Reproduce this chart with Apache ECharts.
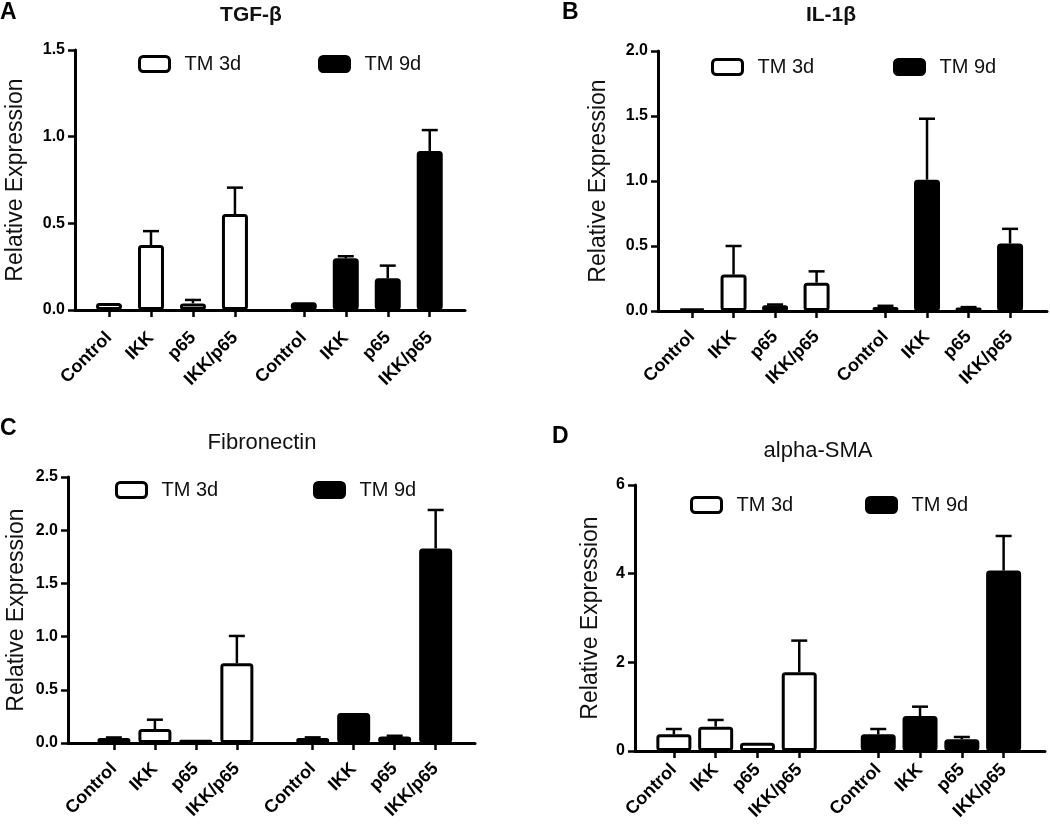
<!DOCTYPE html>
<html>
<head>
<meta charset="utf-8">
<script src="https://cdn.jsdelivr.net/npm/echarts@6/dist/echarts.min.js"></script>
<style>
  html, body { margin: 0; padding: 0; background: #fff; }
  #chart { width: 1050px; height: 831px; }
</style>
</head>
<body>
<div id="chart"></div>
<script>
// categories on each x axis (same for both time points)
const categories = ['Control', 'IKK', 'p65', 'IKK/p65'];
const seriesNames = ['TM 3d', 'TM 9d'];

// TGF-beta
const tgfb3d = [0.04, 0.375, 0.038, 0.554];
const tgfb3dErr = [0, 0.08, 0.02, 0.152];
const tgfb9d = [0.044, 0.298, 0.183, 0.917];
const tgfb9dErr = [0, 0.012, 0.073, 0.121];

// IL-1beta
const il1b3d = [0.018, 0.28, 0.044, 0.218];
const il1b3dErr = [0, 0.22, 0.006, 0.087];
const il1b9d = [0.03, 1.01, 0.026, 0.519];
const il1b9dErr = [0.01, 0.469, 0.004, 0.113];

// Fibronectin
const fn3d = [0.047, 0.131, 0.03, 0.75];
const fn3dErr = [0.005, 0.088, 0, 0.256];
const fn9d = [0.047, 0.281, 0.062, 1.828];
const fn9dErr = [0.006, 0, 0.006, 0.362];

// alpha-SMA
const sma3d = [0.376, 0.549, 0.188, 1.775];
const sma3dErr = [0.12, 0.151, 0, 0.715];
const sma9d = [0.376, 0.79, 0.263, 4.07];
const sma9dErr = [0.12, 0.21, 0.053, 0.78];

// y axis tick setup per panel
const yMax = [1.5, 2.0, 2.5, 6];
const yStep = [0.5, 0.5, 0.5, 2];

const FONT = 'Liberation Sans, Arial, sans-serif';

// panel layout (pixels / slot units)
const panels = [
  { letter: 'A', title: 'TGF-β', bold: true, data: [tgfb3d, tgfb9d], err: [tgfb3dErr, tgfb9dErr],
    grid: { left: 75, top: 50, width: 390, height: 260 }, pad: 0.81, gap: 1.64, span: 9.29, barW: 26,
    titleX: 251, titleY: 5, letterX: 0, letterY: 1, nameGap: 48, labelMargin: 25,
    legend: [[138, 57], [318, 57]] },
  { letter: 'B', title: 'IL-1β', bold: true, data: [il1b3d, il1b9d], err: [il1b3dErr, il1b9dErr],
    grid: { left: 658, top: 51, width: 389, height: 260 }, pad: 0.82, gap: 1.66, span: 9.37, barW: 26,
    titleX: 831, titleY: 5, letterX: 562, letterY: 1, nameGap: 48, labelMargin: 23,
    legend: [[711, 60], [893, 60]] },
  { letter: 'C', title: 'Fibronectin', bold: false, data: [fn3d, fn9d], err: [fn3dErr, fn9dErr],
    grid: { left: 68, top: 477, width: 407, height: 266 }, pad: 1.12, gap: 1.85, span: 9.93, barW: 33,
    titleX: 262, titleY: 432, letterX: 0, letterY: 417, nameGap: 40, labelMargin: 23,
    legend: [[115, 483], [313, 483]] },
  { letter: 'D', title: 'alpha-SMA', bold: false, data: [sma3d, sma9d], err: [sma3dErr, sma9dErr],
    grid: { left: 635, top: 485, width: 410, height: 266 }, pad: 0.93, gap: 1.89, span: 9.81, barW: 35,
    titleX: 818, titleY: 440, letterX: 552, letterY: 425, nameGap: 33, labelMargin: 16,
    legend: [[690, 498], [865, 498]] },
];

const barStyles = [
  { color: '#fff', borderColor: '#000', borderWidth: 3, borderRadius: 2 },
  { color: '#000', borderColor: '#000', borderWidth: 3, borderRadius: 2 },
];

const option = {
  animation: false,
  backgroundColor: '#fff',
  title: [],
  legend: [],
  grid: [],
  xAxis: [],
  yAxis: [],
  series: [],
};

panels.forEach((p, pi) => {
  // slot position of each bar: 4 for TM 3d, then a gap, 4 for TM 9d
  const pos = [0, 1].map(g => categories.map((c, i) => p.pad + i + g * (3 + p.gap)));
  const allPos = pos[0].concat(pos[1]);
  const labelOf = v => {
    const k = allPos.findIndex(x => Math.abs(x - v) < 1e-6);
    return k < 0 ? '' : categories[k % 4];
  };

  option.title.push(
    { text: p.title, left: p.titleX, top: p.titleY, textAlign: 'center', padding: 0,
      textStyle: { fontFamily: FONT, fontSize: p.bold ? 21 : 22, fontWeight: p.bold ? 'bold' : 'normal', color: '#111' } },
    { text: p.letter, left: p.letterX, top: p.letterY, padding: 0,
      textStyle: { fontFamily: FONT, fontSize: 23, fontWeight: 'bold', color: '#000' } }
  );

  seriesNames.forEach((name, g) => {
    option.legend.push({
      left: p.legend[g][0], top: p.legend[g][1] - 3, padding: 0,
      itemWidth: 30, itemHeight: 15, selectedMode: false,
      data: [{ name, icon: 'roundRect', itemStyle: barStyles[g] }],
      textStyle: { fontFamily: FONT, fontSize: 20, color: '#111', padding: [0, 0, 0, 10] },
    });
  });

  option.grid.push(p.grid);

  option.xAxis.push({
    gridIndex: pi, type: 'value', min: 0, max: p.span,
    splitLine: { show: false },
    axisLine: { onZero: false, lineStyle: { color: '#000', width: 3 } },
    axisTick: { customValues: allPos, length: 7, lineStyle: { color: '#000', width: 2.5 } },
    axisLabel: {
      customValues: allPos, formatter: labelOf, rotate: 45, margin: p.labelMargin,
      fontFamily: FONT, fontSize: 18, fontWeight: 'bold', color: '#000',
    },
  });

  option.yAxis.push({
    gridIndex: pi, type: 'value', min: 0, max: yMax[pi], interval: yStep[pi],
    name: 'Relative Expression', nameLocation: 'middle', nameGap: p.nameGap, nameRotate: 90,
    nameTextStyle: { fontFamily: FONT, fontSize: 23, color: '#111', verticalAlign: 'bottom' },
    splitLine: { show: false },
    axisLine: { show: true, lineStyle: { color: '#000', width: 3 } },
    axisTick: { show: true, length: 7, lineStyle: { color: '#000', width: 2.5 } },
    axisLabel: {
      margin: 10, fontFamily: FONT, fontSize: 16, fontWeight: 'bold', color: '#000',
      formatter: v => (yStep[pi] < 1 ? v.toFixed(1) : String(v)),
    },
  });

  seriesNames.forEach((name, g) => {
    option.series.push({
      name, type: 'bar', xAxisIndex: pi, yAxisIndex: pi,
      barWidth: p.barW, barGap: '-100%',
      itemStyle: barStyles[g],
      data: p.data[g].map((v, i) => [pos[g][i], v]),
      z: 2,
    });
    // upward error bars (mean + SEM)
    option.series.push({
      name, type: 'custom', xAxisIndex: pi, yAxisIndex: pi,
      data: p.data[g].map((v, i) => [pos[g][i], v, p.err[g][i]]),
      encode: { x: 0, y: 1 },
      z: 3,
      renderItem: (params, api) => {
        const x = api.value(0), y = api.value(1), e = api.value(2);
        if (!e) return null;
        const base = api.coord([x, y]);
        const top = api.coord([x, y + e]);
        const style = { stroke: '#000', lineWidth: 2.5 };
        return {
          type: 'group',
          children: [
            { type: 'line', shape: { x1: base[0], y1: base[1], x2: top[0], y2: top[1] }, style },
            { type: 'line', shape: { x1: top[0] - 8, y1: top[1], x2: top[0] + 8, y2: top[1] }, style },
          ],
        };
      },
    });
  });
});

const chart = echarts.init(document.getElementById('chart'), null, { renderer: 'canvas' });
chart.setOption(option);
</script>
</body>
</html>
